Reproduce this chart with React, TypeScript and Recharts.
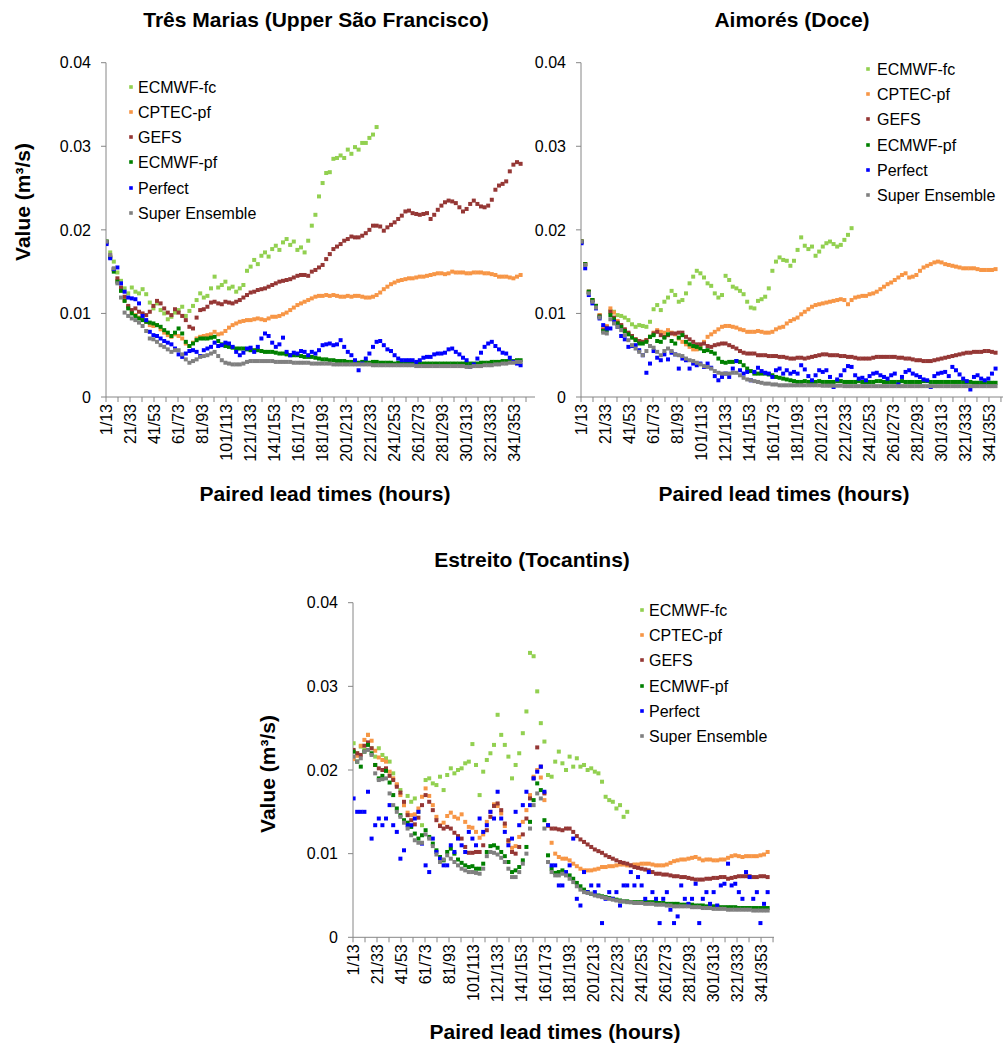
import React from 'react';
import { ScatterChart, Scatter, XAxis, YAxis } from 'recharts';

// ---------- shared categories / labels ----------
const LEAD_HOURS = [1,4,7,10,13,16,19,22,25,28,31,34,37,40,43,46,49,52,55,58,61,64,67,70,73,76,79,82,85,88,91,94,97,100,103,106,109,112,115,118,121,124,127,130,133,136,139,142,145,148,151,154,157,160,163,166,169,172,175,178,181,184,187,190,193,196,199,202,205,208,211,214,217,220,223,226,229,232,235,238,241,244,247,250,253,256,259,262,265,268,271,274,277,280,283,286,289,292,295,298,301,304,307,310,313,316,319,322,325,328,331,334,337,340,343,346];
const X_TICKS = [0,10,20,30,40,50,60,70,80,90,100,110,120,130,140,150,160,170,180,190,200,210,220,230,240,250,260,270,280,290,300,310,320,330,340,350];
const X_TICK_LABELS = ['1/13','21/33','41/53','61/73','81/93','101/113','121/133','141/153','161/173','181/193','201/213','221/233','241/253','261/273','281/293','301/313','321/333','341/353'];
const Y_TICKS = [0, 0.01, 0.02, 0.03, 0.04];
const SERIES_NAMES = ['ECMWF-fc', 'CPTEC-pf', 'GEFS', 'ECMWF-pf', 'Perfect', 'Super Ensemble'];
const SERIES_COLORS = ['#92D050', '#F79646', '#953735', '#008000', '#0000FF', '#808080'];

// ---------- Três Marias (Upper São Francisco) ----------
const TM_ECMWF_FC = [
0.0186,0.0173,0.0162,0.0149,0.0139,0.0130,0.0124,0.0131,0.0126,0.0124,
0.0129,0.0123,0.0113,0.0106,0.0112,0.0104,0.0100,0.0093,0.0096,0.0101,
0.0104,0.0108,0.0097,0.0103,0.0109,0.0116,0.0124,0.0119,0.0121,0.0130,
0.0144,0.0131,0.0134,0.0138,0.0130,0.0132,0.0126,0.0130,0.0134,0.0151,
0.0156,0.0164,0.0159,0.0169,0.0173,0.0168,0.0177,0.0181,0.0176,0.0185,
0.0189,0.0182,0.0186,0.0176,0.0179,0.0173,0.0187,0.0205,0.0218,0.0240,
0.0256,0.0268,0.0269,0.0285,0.0286,0.0289,0.0286,0.0296,0.0291,0.0299,
0.0296,0.0304,0.0304,0.0310,0.0314,0.0323];
const TM_CPTEC_PF = [
0.0185,0.0169,0.0152,0.0139,0.0128,0.0116,0.0108,0.0101,0.0098,0.0095,
0.0093,0.0090,0.0086,0.0085,0.0086,0.0081,0.0077,0.0074,0.0072,0.0075,
0.0073,0.0070,0.0064,0.0061,0.0065,0.0070,0.0072,0.0073,0.0074,0.0075,
0.0078,0.0075,0.0076,0.0079,0.0083,0.0086,0.0088,0.0090,0.0091,0.0092,
0.0092,0.0093,0.0094,0.0093,0.0092,0.0094,0.0096,0.0096,0.0097,0.0099,
0.0101,0.0104,0.0107,0.0110,0.0112,0.0114,0.0116,0.0118,0.0120,0.0121,
0.0121,0.0122,0.0121,0.0122,0.0121,0.0120,0.0120,0.0121,0.0120,0.0121,
0.0121,0.0120,0.0119,0.0119,0.0120,0.0122,0.0125,0.0129,0.0132,0.0135,
0.0137,0.0139,0.0140,0.0141,0.0142,0.0142,0.0143,0.0144,0.0144,0.0145,
0.0146,0.0147,0.0148,0.0148,0.0147,0.0148,0.0150,0.0149,0.0149,0.0149,
0.0148,0.0148,0.0149,0.0149,0.0149,0.0148,0.0148,0.0147,0.0146,0.0144,
0.0144,0.0144,0.0143,0.0142,0.0144,0.0146];
const TM_GEFS = [
0.0185,0.0168,0.0153,0.0142,0.0131,0.0120,0.0109,0.0104,0.0106,0.0102,
0.0100,0.0098,0.0102,0.0109,0.0115,0.0112,0.0106,0.0101,0.0098,0.0105,
0.0101,0.0097,0.0092,0.0084,0.0082,0.0095,0.0104,0.0105,0.0108,0.0113,
0.0114,0.0112,0.0111,0.0114,0.0113,0.0112,0.0114,0.0116,0.0119,0.0122,
0.0125,0.0126,0.0128,0.0129,0.0130,0.0132,0.0134,0.0136,0.0138,0.0139,
0.0140,0.0141,0.0143,0.0145,0.0146,0.0146,0.0145,0.0150,0.0152,0.0155,
0.0158,0.0165,0.0171,0.0177,0.0180,0.0183,0.0187,0.0189,0.0192,0.0191,
0.0191,0.0193,0.0196,0.0200,0.0205,0.0205,0.0204,0.0199,0.0203,0.0206,
0.0209,0.0213,0.0217,0.0222,0.0223,0.0220,0.0219,0.0218,0.0219,0.0220,
0.0213,0.0218,0.0224,0.0229,0.0233,0.0235,0.0234,0.0232,0.0227,0.0222,
0.0225,0.0231,0.0235,0.0231,0.0228,0.0227,0.0229,0.0236,0.0248,0.0253,
0.0255,0.0258,0.0270,0.0278,0.0281,0.0279];
const TM_ECMWF_PF = [
0.0186,0.0167,0.0150,0.0138,0.0127,0.0115,0.0106,0.0100,0.0097,0.0094,
0.0092,0.0090,0.0089,0.0088,0.0086,0.0084,0.0080,0.0077,0.0073,0.0077,
0.0082,0.0076,0.0066,0.0061,0.0064,0.0068,0.0070,0.0070,0.0070,0.0071,
0.0072,0.0067,0.0063,0.0061,0.0060,0.0059,0.0058,0.0058,0.0058,0.0057,
0.0056,0.0056,0.0056,0.0055,0.0054,0.0054,0.0054,0.0053,0.0052,0.0052,
0.0051,0.0050,0.0050,0.0050,0.0049,0.0048,0.0048,0.0048,0.0047,0.0046,
0.0045,0.0045,0.0044,0.0044,0.0043,0.0043,0.0043,0.0042,0.0042,0.0042,
0.0041,0.0042,0.0042,0.0041,0.0042,0.0042,0.0041,0.0041,0.0041,0.0041,
0.0040,0.0041,0.0041,0.0040,0.0040,0.0040,0.0040,0.0040,0.0040,0.0040,
0.0040,0.0040,0.0040,0.0040,0.0040,0.0040,0.0040,0.0040,0.0040,0.0040,
0.0040,0.0040,0.0040,0.0040,0.0041,0.0041,0.0041,0.0042,0.0042,0.0042,
0.0043,0.0043,0.0043,0.0043,0.0044,0.0044];
const TM_PERFECT = [
0.0183,0.0166,0.0153,0.0155,0.0136,0.0126,0.0119,0.0118,0.0117,0.0112,
0.0097,0.0092,0.0078,0.0074,0.0073,0.0070,0.0067,0.0065,0.0063,0.0058,
0.0051,0.0048,0.0052,0.0055,0.0056,0.0054,0.0049,0.0056,0.0058,0.0060,
0.0065,0.0061,0.0062,0.0065,0.0064,0.0060,0.0054,0.0050,0.0053,0.0058,
0.0059,0.0054,0.0060,0.0070,0.0076,0.0073,0.0065,0.0060,0.0063,0.0071,
0.0054,0.0050,0.0053,0.0052,0.0055,0.0054,0.0050,0.0054,0.0052,0.0056,
0.0062,0.0063,0.0064,0.0062,0.0063,0.0068,0.0060,0.0054,0.0050,0.0044,
0.0032,0.0040,0.0046,0.0052,0.0060,0.0066,0.0067,0.0062,0.0057,0.0055,
0.0050,0.0046,0.0044,0.0044,0.0044,0.0044,0.0042,0.0044,0.0047,0.0048,
0.0048,0.0051,0.0052,0.0052,0.0053,0.0057,0.0058,0.0054,0.0051,0.0047,
0.0044,0.0036,0.0039,0.0046,0.0053,0.0060,0.0064,0.0066,0.0061,0.0057,
0.0053,0.0052,0.0047,0.0042,0.0040,0.0038];
const TM_SUPER = [
0.0186,0.0170,0.0154,0.0136,0.0119,0.0101,0.0097,0.0094,0.0092,0.0089,
0.0085,0.0079,0.0070,0.0069,0.0066,0.0062,0.0060,0.0057,0.0054,0.0056,
0.0056,0.0051,0.0045,0.0041,0.0043,0.0045,0.0048,0.0049,0.0050,0.0052,
0.0054,0.0049,0.0044,0.0041,0.0040,0.0039,0.0039,0.0039,0.0040,0.0042,
0.0043,0.0043,0.0043,0.0043,0.0043,0.0043,0.0043,0.0042,0.0042,0.0042,
0.0042,0.0042,0.0041,0.0041,0.0041,0.0041,0.0041,0.0040,0.0040,0.0040,
0.0040,0.0040,0.0040,0.0039,0.0039,0.0039,0.0039,0.0039,0.0039,0.0039,
0.0039,0.0039,0.0039,0.0039,0.0038,0.0038,0.0038,0.0038,0.0038,0.0038,
0.0038,0.0038,0.0038,0.0038,0.0038,0.0038,0.0037,0.0037,0.0037,0.0037,
0.0037,0.0037,0.0037,0.0037,0.0037,0.0037,0.0037,0.0037,0.0037,0.0037,
0.0036,0.0036,0.0037,0.0037,0.0037,0.0038,0.0038,0.0038,0.0039,0.0039,
0.0040,0.0040,0.0041,0.0041,0.0042,0.0042];

// ---------- Aimorés (Doce) ----------
const AI_ECMWF_FC = [
0.0186,0.0159,0.0125,0.0115,0.0108,0.0098,0.0083,0.0084,0.0103,0.0102,
0.0098,0.0097,0.0095,0.0092,0.0087,0.0084,0.0086,0.0085,0.0084,0.0090,
0.0105,0.0110,0.0104,0.0114,0.0119,0.0127,0.0122,0.0114,0.0116,0.0124,
0.0136,0.0144,0.0151,0.0148,0.0143,0.0136,0.0133,0.0124,0.0119,0.0122,
0.0145,0.0140,0.0132,0.0130,0.0127,0.0123,0.0114,0.0107,0.0106,0.0115,
0.0117,0.0120,0.0130,0.0151,0.0162,0.0167,0.0164,0.0163,0.0157,0.0163,
0.0176,0.0191,0.0181,0.0177,0.0180,0.0169,0.0174,0.0180,0.0184,0.0186,
0.0183,0.0180,0.0182,0.0188,0.0194,0.0202];
const AI_CPTEC_PF = [
0.0186,0.0159,0.0126,0.0116,0.0109,0.0098,0.0082,0.0085,0.0106,0.0101,
0.0091,0.0086,0.0080,0.0076,0.0072,0.0069,0.0067,0.0066,0.0068,0.0072,
0.0077,0.0080,0.0078,0.0077,0.0080,0.0077,0.0075,0.0070,0.0066,0.0063,
0.0060,0.0057,0.0057,0.0060,0.0066,0.0072,0.0075,0.0078,0.0081,0.0084,
0.0085,0.0085,0.0084,0.0083,0.0081,0.0080,0.0078,0.0078,0.0078,0.0079,
0.0078,0.0077,0.0077,0.0078,0.0081,0.0083,0.0084,0.0088,0.0091,0.0093,
0.0095,0.0099,0.0102,0.0105,0.0108,0.0110,0.0111,0.0112,0.0113,0.0114,
0.0115,0.0116,0.0117,0.0116,0.0111,0.0116,0.0119,0.0120,0.0121,0.0121,
0.0123,0.0124,0.0126,0.0129,0.0132,0.0135,0.0137,0.0140,0.0143,0.0146,
0.0148,0.0143,0.0144,0.0146,0.0151,0.0155,0.0157,0.0159,0.0161,0.0162,
0.0161,0.0159,0.0158,0.0157,0.0156,0.0155,0.0154,0.0154,0.0154,0.0154,
0.0153,0.0152,0.0152,0.0152,0.0152,0.0153];
const AI_GEFS = [
0.0186,0.0159,0.0126,0.0116,0.0109,0.0097,0.0080,0.0083,0.0102,0.0095,
0.0089,0.0086,0.0081,0.0077,0.0073,0.0069,0.0067,0.0066,0.0068,0.0072,
0.0076,0.0078,0.0074,0.0072,0.0074,0.0076,0.0076,0.0077,0.0077,0.0072,
0.0069,0.0066,0.0063,0.0063,0.0064,0.0061,0.0060,0.0062,0.0063,0.0064,
0.0064,0.0062,0.0060,0.0058,0.0055,0.0053,0.0052,0.0052,0.0052,0.0050,
0.0050,0.0050,0.0049,0.0049,0.0049,0.0048,0.0048,0.0047,0.0046,0.0046,
0.0047,0.0047,0.0046,0.0047,0.0048,0.0049,0.0050,0.0051,0.0051,0.0050,
0.0050,0.0050,0.0049,0.0049,0.0048,0.0048,0.0047,0.0046,0.0046,0.0046,
0.0046,0.0047,0.0048,0.0048,0.0048,0.0048,0.0048,0.0048,0.0047,0.0047,
0.0046,0.0046,0.0045,0.0044,0.0044,0.0043,0.0043,0.0043,0.0044,0.0045,
0.0046,0.0047,0.0048,0.0049,0.0050,0.0051,0.0052,0.0053,0.0053,0.0054,
0.0054,0.0054,0.0055,0.0055,0.0054,0.0053];
const AI_ECMWF_PF = [
0.0186,0.0159,0.0126,0.0116,0.0109,0.0096,0.0079,0.0080,0.0098,0.0093,
0.0088,0.0084,0.0079,0.0075,0.0071,0.0068,0.0064,0.0064,0.0066,0.0072,
0.0074,0.0067,0.0066,0.0071,0.0075,0.0067,0.0064,0.0071,0.0074,0.0066,
0.0063,0.0061,0.0060,0.0058,0.0055,0.0056,0.0054,0.0052,0.0046,0.0042,
0.0041,0.0042,0.0042,0.0043,0.0042,0.0038,0.0034,0.0031,0.0028,0.0028,
0.0028,0.0028,0.0027,0.0026,0.0024,0.0023,0.0022,0.0021,0.0020,0.0019,
0.0018,0.0018,0.0019,0.0018,0.0018,0.0018,0.0019,0.0018,0.0018,0.0018,
0.0018,0.0019,0.0019,0.0018,0.0018,0.0018,0.0018,0.0019,0.0018,0.0018,
0.0018,0.0018,0.0019,0.0019,0.0018,0.0018,0.0018,0.0018,0.0018,0.0019,
0.0018,0.0018,0.0018,0.0018,0.0018,0.0019,0.0019,0.0018,0.0018,0.0018,
0.0018,0.0018,0.0018,0.0018,0.0018,0.0018,0.0018,0.0018,0.0018,0.0017,
0.0017,0.0017,0.0017,0.0017,0.0017,0.0017];
const AI_PERFECT = [
0.0184,0.0154,0.0122,0.0112,0.0106,0.0094,0.0086,0.0082,0.0082,0.0090,
0.0084,0.0073,0.0069,0.0060,0.0061,0.0062,0.0056,0.0050,0.0029,0.0040,
0.0055,0.0047,0.0044,0.0051,0.0045,0.0053,0.0051,0.0034,0.0046,0.0044,
0.0034,0.0040,0.0038,0.0040,0.0036,0.0040,0.0035,0.0025,0.0020,0.0024,
0.0028,0.0024,0.0034,0.0043,0.0032,0.0028,0.0030,0.0020,0.0030,0.0035,
0.0031,0.0029,0.0028,0.0024,0.0032,0.0034,0.0028,0.0032,0.0028,0.0030,
0.0028,0.0038,0.0033,0.0025,0.0020,0.0026,0.0032,0.0030,0.0032,0.0024,
0.0012,0.0021,0.0026,0.0032,0.0037,0.0036,0.0026,0.0022,0.0023,0.0020,
0.0025,0.0028,0.0029,0.0026,0.0024,0.0022,0.0026,0.0028,0.0015,0.0024,
0.0030,0.0032,0.0028,0.0026,0.0024,0.0021,0.0020,0.0012,0.0025,0.0028,
0.0029,0.0030,0.0025,0.0036,0.0032,0.0027,0.0022,0.0019,0.0009,0.0024,
0.0026,0.0022,0.0020,0.0022,0.0028,0.0034];
const AI_SUPER = [
0.0186,0.0158,0.0124,0.0114,0.0107,0.0095,0.0077,0.0076,0.0093,0.0088,
0.0084,0.0080,0.0074,0.0068,0.0062,0.0058,0.0054,0.0050,0.0055,0.0061,
0.0059,0.0054,0.0050,0.0055,0.0058,0.0055,0.0051,0.0050,0.0049,0.0046,
0.0044,0.0043,0.0041,0.0039,0.0037,0.0036,0.0034,0.0031,0.0029,0.0028,
0.0028,0.0028,0.0029,0.0029,0.0026,0.0023,0.0021,0.0020,0.0019,0.0018,
0.0017,0.0016,0.0016,0.0015,0.0015,0.0014,0.0014,0.0014,0.0014,0.0014,
0.0014,0.0014,0.0014,0.0014,0.0014,0.0014,0.0014,0.00135,0.00135,0.00135,
0.00135,0.00135,0.00135,0.0013,0.0013,0.0013,0.0013,0.0013,0.0013,0.0013,
0.0013,0.0013,0.0013,0.0013,0.0013,0.0013,0.0013,0.0013,0.0013,0.0013,
0.0013,0.0013,0.0013,0.0013,0.0013,0.0013,0.0013,0.0013,0.0013,0.0013,
0.0013,0.0013,0.0013,0.0013,0.0013,0.0013,0.0013,0.0013,0.0013,0.0013,
0.0013,0.0013,0.0013,0.0013,0.0013,0.0013];

// ---------- Estreito (Tocantins) ----------
const ES_ECMWF_FC = [
0.0232,0.0220,0.0228,0.0224,0.0242,0.0226,0.0216,0.0226,0.0218,0.0214,
0.0210,0.0196,0.0182,0.0176,0.0158,0.0169,0.0162,0.0166,0.0150,0.0134,
0.0188,0.0190,0.0184,0.0182,0.0192,0.0176,0.0194,0.0202,0.0196,0.0200,
0.0202,0.0208,0.0210,0.0231,0.0206,0.0170,0.0198,0.0212,0.0220,0.0230,
0.0266,0.0242,0.0230,0.0216,0.0190,0.0206,0.0220,0.0244,0.0270,0.0340,
0.0336,0.0294,0.0256,0.0234,0.0194,0.0192,0.0210,0.0222,0.0208,0.0200,
0.0216,0.0204,0.0214,0.0204,0.0206,0.0200,0.0202,0.0198,0.0196,0.0186,
0.0168,0.0164,0.0162,0.0154,0.0158,0.0144,0.0150];
const ES_CPTEC_PF = [
0.0213,0.0217,0.0229,0.0236,0.0242,0.0235,0.0223,0.0215,0.0212,0.0210,
0.0198,0.0190,0.0183,0.0170,0.0158,0.0149,0.0146,0.0147,0.0154,0.0168,
0.0178,0.0169,0.0158,0.0144,0.0134,0.0137,0.0145,0.0149,0.0144,0.0142,
0.0147,0.0138,0.0132,0.0131,0.0126,0.0119,0.0123,0.0138,0.0150,0.0159,
0.0157,0.0148,0.0133,0.0114,0.0107,0.0109,0.0120,0.0138,0.0152,0.0170,
0.0192,0.0200,0.0191,0.0164,0.0133,0.0113,0.0100,0.0096,0.0094,0.0094,
0.0092,0.0088,0.0085,0.0082,0.0080,0.0080,0.0080,0.0081,0.0082,0.0084,
0.0084,0.0085,0.0085,0.0086,0.0087,0.0087,0.0086,0.0086,0.0087,0.0087,
0.0088,0.0088,0.0088,0.0087,0.0086,0.0086,0.0086,0.0087,0.0089,0.0091,
0.0092,0.0093,0.0093,0.0094,0.0095,0.0096,0.0094,0.0092,0.0093,0.0093,
0.0092,0.0092,0.0093,0.0093,0.0095,0.0097,0.0098,0.0097,0.0096,0.0097,
0.0097,0.0097,0.0097,0.0098,0.0099,0.0102];
const ES_GEFS = [
0.0224,0.0220,0.0218,0.0229,0.0233,0.0226,0.0206,0.0202,0.0200,0.0202,
0.0193,0.0188,0.0180,0.0173,0.0162,0.0146,0.0140,0.0135,0.0143,0.0158,
0.0170,0.0162,0.0152,0.0140,0.0133,0.0130,0.0132,0.0130,0.0125,0.0121,
0.0118,0.0108,0.0101,0.0101,0.0102,0.0102,0.0110,0.0128,0.0144,0.0157,
0.0160,0.0152,0.0136,0.0116,0.0102,0.0100,0.0108,0.0123,0.0142,0.0166,
0.0190,0.0227,0.0204,0.0172,0.0134,0.0130,0.0130,0.0129,0.0128,0.0130,
0.0130,0.0126,0.0121,0.0117,0.0114,0.0111,0.0108,0.0105,0.0103,0.0101,
0.0098,0.0096,0.0094,0.0092,0.0090,0.0089,0.0088,0.0086,0.0084,0.0083,
0.0082,0.0081,0.0080,0.0078,0.0076,0.0076,0.0075,0.0075,0.0074,0.0073,
0.0073,0.0072,0.0072,0.0071,0.0070,0.0069,0.0069,0.0069,0.0070,0.0070,
0.0071,0.0071,0.0072,0.0072,0.0070,0.0071,0.0072,0.0073,0.0073,0.0073,
0.0073,0.0072,0.0072,0.0073,0.0073,0.0072];
const ES_ECMWF_PF = [
0.0222,0.0210,0.0204,0.0222,0.0230,0.0220,0.0206,0.0190,0.0193,0.0199,
0.0185,0.0170,0.0154,0.0146,0.0140,0.0137,0.0132,0.0124,0.0118,0.0122,
0.0128,0.0120,0.0112,0.0104,0.0096,0.0092,0.0102,0.0106,0.0100,0.0093,
0.0089,0.0086,0.0084,0.0085,0.0082,0.0082,0.0088,0.0102,0.0109,0.0110,
0.0107,0.0102,0.0097,0.0090,0.0078,0.0080,0.0084,0.0092,0.0108,0.0138,
0.0164,0.0184,0.0176,0.0140,0.0098,0.0082,0.0077,0.0078,0.0080,0.0076,
0.0074,0.0070,0.0065,0.0061,0.0057,0.0054,0.0052,0.0051,0.0050,0.0049,
0.0048,0.0047,0.0046,0.0045,0.0044,0.0043,0.0043,0.0042,0.0042,0.0042,
0.0042,0.0042,0.0042,0.0042,0.0042,0.0041,0.0041,0.0040,0.0040,0.0040,
0.0040,0.0039,0.0039,0.0039,0.0039,0.0038,0.0038,0.0038,0.0037,0.0037,
0.0037,0.0037,0.0036,0.0036,0.0036,0.0036,0.0036,0.0035,0.0035,0.0035,
0.0035,0.0035,0.0035,0.0035,0.0035,0.0035];
const ES_PERFECT = [
0.0166,0.0150,0.0150,0.0150,0.0174,0.0118,0.0134,0.0142,0.0134,0.0142,
0.0158,0.0134,0.0126,0.0094,0.0104,0.0134,0.0134,0.0142,0.0150,0.0112,
0.0086,0.0078,0.0118,0.0102,0.0094,0.0086,0.0086,0.0110,0.0102,0.0118,
0.0110,0.0102,0.0126,0.0118,0.0110,0.0142,0.0126,0.0134,0.0150,0.0142,
0.0174,0.0142,0.0126,0.0110,0.0118,0.0150,0.0134,0.0158,0.0174,0.0158,
0.0190,0.0198,0.0204,0.0174,0.0134,0.0086,0.0086,0.0062,0.0062,0.0078,
0.0086,0.0118,0.0046,0.0038,0.0078,0.0054,0.0062,0.0054,0.0062,0.0017,
0.0046,0.0054,0.0046,0.0054,0.0038,0.0062,0.0062,0.0078,0.0062,0.0072,
0.0062,0.0046,0.0078,0.0054,0.0046,0.0017,0.0046,0.0054,0.0033,0.0017,
0.0025,0.0062,0.0046,0.0040,0.0046,0.0064,0.0017,0.0046,0.0054,0.0040,
0.0054,0.0038,0.0062,0.0064,0.0088,0.0062,0.0064,0.0054,0.0046,0.0078,
0.0072,0.0046,0.0054,0.0017,0.0040,0.0054];
const ES_SUPER = [
0.0216,0.0210,0.0214,0.0222,0.0224,0.0218,0.0196,0.0188,0.0189,0.0190,
0.0172,0.0158,0.0150,0.0144,0.0137,0.0130,0.0122,0.0116,0.0113,0.0113,
0.0123,0.0118,0.0109,0.0099,0.0090,0.0093,0.0098,0.0094,0.0090,0.0086,
0.0082,0.0080,0.0078,0.0078,0.0077,0.0076,0.0082,0.0097,0.0102,0.0101,
0.0099,0.0095,0.0090,0.0082,0.0072,0.0072,0.0078,0.0088,0.0100,0.0130,
0.0158,0.0172,0.0166,0.0130,0.0090,0.0078,0.0074,0.0074,0.0076,0.0074,
0.0070,0.0066,0.0061,0.0057,0.0054,0.0053,0.0052,0.0050,0.0049,0.0048,
0.0047,0.0046,0.0045,0.0044,0.0043,0.0043,0.0042,0.0042,0.0041,0.0041,
0.0041,0.0040,0.0040,0.0040,0.0039,0.0039,0.0039,0.0038,0.0038,0.0037,
0.0037,0.0037,0.0037,0.0037,0.0036,0.0036,0.0036,0.0035,0.0035,0.0035,
0.0034,0.0034,0.0034,0.0034,0.0033,0.0033,0.0033,0.0033,0.0033,0.0033,
0.0033,0.0032,0.0032,0.0032,0.0032,0.0032];

// ---------- rendering ----------
const FONT = "'Liberation Sans', Arial, Helvetica, sans-serif";
const AXIS_COLOR = '#868686';
const MARKER = 4;

const toPoints = (vals: number[]) =>
  vals.map((v, i) => ({ x: LEAD_HOURS[i] - 0.5, y: v }));

const makeShape = (color: string) => (props: any) => {
  const { cx, cy } = props;
  if (cx == null || cy == null || Number.isNaN(cx) || Number.isNaN(cy)) return <g />;
  return <rect x={cx - MARKER / 2} y={cy - MARKER / 2} width={MARKER} height={MARKER} fill={color} />;
};

const XTick = (props: any) => {
  const { x, y, payload } = props;
  const v = payload ? payload.value : null;
  if (v == null || v % 20 !== 0) return <g />;
  const label = X_TICK_LABELS[v / 20];
  if (!label) return <g />;
  return (
    <text
      transform={`translate(${x},${y}) rotate(-90)`}
      textAnchor="end"
      dy="0.35em"
      fontSize={16}
      fill="#000"
      fontFamily={FONT}
    >
      {label}
    </text>
  );
};

const fmtY = (v: number) => (v === 0 ? '0' : v.toFixed(2));

type PanelProps = {
  left: number; top: number; width: number; height: number;
  margin: { top: number; right: number; bottom: number; left: number };
  yWidth: number; xMax: number; series: number[][];
};

function Panel({ left, top, width, height, margin, yWidth, xMax, series }: PanelProps) {
  return (
    <div style={{ position: 'absolute', left, top, width, height }}>
      <ScatterChart width={width} height={height} margin={margin}>
        <XAxis
          type="number"
          dataKey="x"
          domain={[0, xMax]}
          ticks={X_TICKS}
          interval={0}
          tick={<XTick />}
          tickSize={5}
          tickMargin={2}
          height={60}
          stroke={AXIS_COLOR}
          allowDataOverflow
        />
        <YAxis
          type="number"
          dataKey="y"
          domain={[0, 0.04]}
          ticks={Y_TICKS}
          interval={0}
          tickFormatter={fmtY}
          tickSize={5}
          tickMargin={10}
          width={yWidth}
          stroke={AXIS_COLOR}
          tick={{ fill: '#000', fontSize: 16, fontFamily: FONT }}
          allowDataOverflow
        />
        {series.map((vals, i) => (
          <Scatter
            key={SERIES_NAMES[i]}
            name={SERIES_NAMES[i]}
            data={toPoints(vals)}
            fill={SERIES_COLORS[i]}
            shape={makeShape(SERIES_COLORS[i])}
            isAnimationActive={false}
          />
        ))}
      </ScatterChart>
    </div>
  );
}

function LegendBlock({ markerX, textX, rows }: { markerX: number; textX: number; rows: number[] }) {
  return (
    <g>
      {SERIES_NAMES.map((name, i) => (
        <g key={name}>
          <rect x={markerX - 1.8} y={rows[i] - 1.8} width={3.6} height={3.6} fill={SERIES_COLORS[i]} />
          <text x={textX} y={rows[i] + 5.6} fontSize={16} fontFamily={FONT} fill="#000">{name}</text>
        </g>
      ))}
    </g>
  );
}

const titleStyle = { fontSize: 21, fontWeight: 700 as const, fontFamily: FONT, fill: '#000' };

export default function App() {
  return (
    <div style={{ position: 'absolute', left: 0, top: 0, width: 1008, height: 1045, overflow: 'hidden', background: '#fff' }}>
      <Panel
        left={0} top={0} width={560} height={520}
        margin={{ top: 62.7, right: 25, bottom: 63, left: 26 }}
        yWidth={80} xMax={357.5}
        series={[TM_ECMWF_FC, TM_CPTEC_PF, TM_GEFS, TM_ECMWF_PF, TM_PERFECT, TM_SUPER]}
      />
      <Panel
        left={500} top={0} width={508} height={520}
        margin={{ top: 62.7, right: 5, bottom: 63, left: 21 }}
        yWidth={60} xMax={351.7}
        series={[AI_ECMWF_FC, AI_CPTEC_PF, AI_GEFS, AI_ECMWF_PF, AI_PERFECT, AI_SUPER]}
      />
      <Panel
        left={200} top={540} width={600} height={505}
        margin={{ top: 62.7, right: 26, bottom: 47.7, left: 93 }}
        yWidth={60} xMax={350.8}
        series={[ES_ECMWF_FC, ES_CPTEC_PF, ES_GEFS, ES_ECMWF_PF, ES_PERFECT, ES_SUPER]}
      />
      <svg width={1008} height={1045} style={{ position: 'absolute', left: 0, top: 0, pointerEvents: 'none' }}>
        <text x={316} y={27} textAnchor="middle" {...titleStyle}>Três Marias (Upper São Francisco)</text>
        <text x={792} y={27} textAnchor="middle" {...titleStyle}>Aimorés (Doce)</text>
        <text x={532} y={567} textAnchor="middle" {...titleStyle}>Estreito (Tocantins)</text>

        <text transform="translate(23,202) rotate(-90)" textAnchor="middle" dy="0.35em" {...titleStyle}>Value (m³/s)</text>
        <text transform="translate(268,774) rotate(-90)" textAnchor="middle" dy="0.35em" {...titleStyle}>Value (m³/s)</text>

        <text x={325} y={501} textAnchor="middle" {...titleStyle}>Paired lead times (hours)</text>
        <text x={784} y={501} textAnchor="middle" {...titleStyle}>Paired lead times (hours)</text>
        <text x={555} y={1039} textAnchor="middle" {...titleStyle}>Paired lead times (hours)</text>

        <LegendBlock markerX={131} textX={138} rows={[87, 112, 137, 162, 188, 213]} />
        <LegendBlock markerX={868} textX={877} rows={[69, 94, 119, 145, 170, 195]} />
        <LegendBlock markerX={642} textX={649} rows={[610, 635, 660, 686, 711, 736]} />
      </svg>
    </div>
  );
}
